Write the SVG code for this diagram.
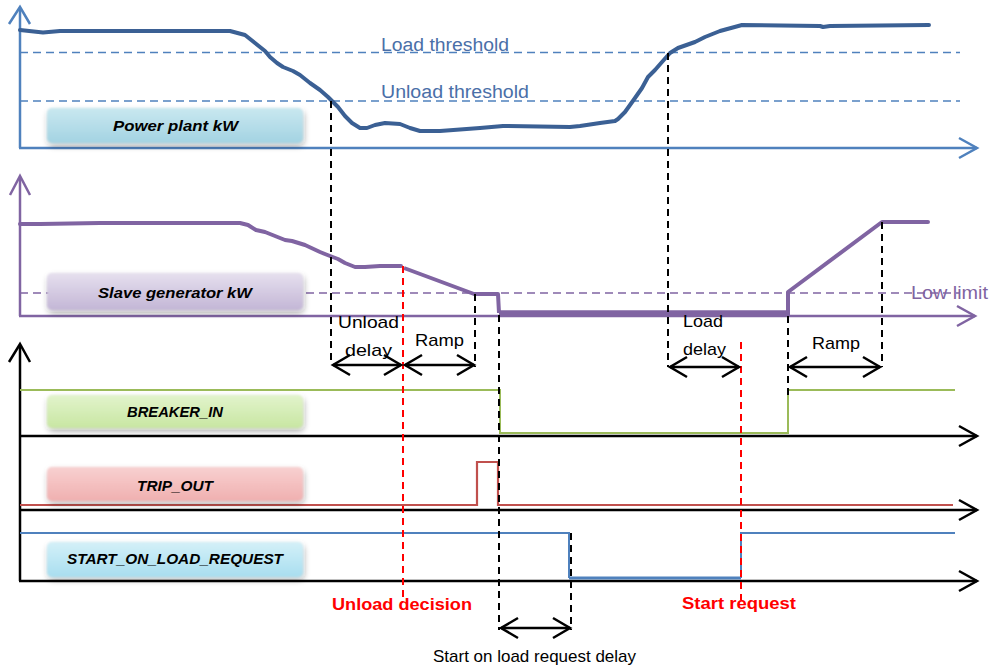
<svg xmlns="http://www.w3.org/2000/svg" width="992" height="669" viewBox="0 0 992 669">
  <defs>
    <style>
      .lbl { font-family: "Liberation Sans", Arial, sans-serif; font-weight: bold; font-style: italic; font-size: 15px; fill: #000; text-anchor: start; }
      .thr { font-family: "Liberation Sans", Arial, sans-serif; font-size: 18px; }
      .note { font-family: "Liberation Sans", Arial, sans-serif; font-size: 17px; fill: #000; }
      .evt { font-family: "Liberation Sans", Arial, sans-serif; font-weight: bold; font-size: 17px; fill: #ff0000; }
      .vdash { fill: none; stroke: #000; stroke-width: 2; stroke-dasharray: 7 5; }
      .rdash { fill: none; stroke: #ff0000; stroke-width: 2; stroke-dasharray: 7 5; }
      .span { fill: none; stroke: #000; stroke-width: 2.5; marker-start: url(#chev); marker-end: url(#chev); }
      .box { filter: url(#soft); }
    </style>
    <marker id="chev" markerUnits="userSpaceOnUse" markerWidth="30" markerHeight="30" refX="0" refY="0" viewBox="-20 -15 30 30" orient="auto-start-reverse" overflow="visible">
      <path d="M -17 -10 L 0 0 L -17 10" fill="none" stroke="#000" stroke-width="2.5"/>
    </marker>
    <marker id="axBlue" markerUnits="userSpaceOnUse" markerWidth="30" markerHeight="30" refX="0" refY="0" viewBox="-20 -15 30 30" orient="auto" overflow="visible">
      <path d="M -18 -10 L 0 0 L -18 10" fill="none" stroke="#4f81bd" stroke-width="2.5"/>
    </marker>
    <marker id="axPurple" markerUnits="userSpaceOnUse" markerWidth="30" markerHeight="30" refX="0" refY="0" viewBox="-20 -15 30 30" orient="auto" overflow="visible">
      <path d="M -18 -10 L 0 0 L -18 10" fill="none" stroke="#8064a2" stroke-width="2.5"/>
    </marker>
    <marker id="axBlack" markerUnits="userSpaceOnUse" markerWidth="30" markerHeight="30" refX="0" refY="0" viewBox="-20 -15 30 30" orient="auto" overflow="visible">
      <path d="M -18 -10 L 0 0 L -18 10" fill="none" stroke="#000" stroke-width="2.5"/>
    </marker>
    <linearGradient id="gBlue" x1="0" y1="0" x2="0" y2="1">
      <stop offset="0" stop-color="#c9e8f0"/>
      <stop offset="1" stop-color="#a3d3e2"/>
    </linearGradient>
    <linearGradient id="gPurple" x1="0" y1="0" x2="0" y2="1">
      <stop offset="0" stop-color="#e6e0ee"/>
      <stop offset="1" stop-color="#c3b6d6"/>
    </linearGradient>
    <linearGradient id="gGreen" x1="0" y1="0" x2="0" y2="1">
      <stop offset="0" stop-color="#e2f4cc"/>
      <stop offset="1" stop-color="#c8e6a2"/>
    </linearGradient>
    <linearGradient id="gRed" x1="0" y1="0" x2="0" y2="1">
      <stop offset="0" stop-color="#f8d0d0"/>
      <stop offset="1" stop-color="#f0b0b0"/>
    </linearGradient>
    <linearGradient id="gCyan" x1="0" y1="0" x2="0" y2="1">
      <stop offset="0" stop-color="#d4f0f8"/>
      <stop offset="1" stop-color="#a8def0"/>
    </linearGradient>
    <filter id="soft" x="-10%" y="-40%" width="120%" height="190%">
      <feGaussianBlur in="SourceAlpha" stdDeviation="3" result="b"/>
      <feOffset dx="1" dy="3" result="o"/>
      <feComponentTransfer in="o" result="sh"><feFuncA type="linear" slope="0.35"/></feComponentTransfer>
      <feGaussianBlur in="SourceGraphic" stdDeviation="1.2" result="s"/>
      <feMerge><feMergeNode in="sh"/><feMergeNode in="s"/></feMerge>
    </filter>
  </defs>

  <rect width="992" height="669" fill="#fff"/>

  <!-- Power plant panel -->
  <g id="power-plant">
    <line x1="20" y1="8" x2="20" y2="148" stroke="#4f81bd" stroke-width="2.5"/>
    <path d="M 9 24 L 20 7 L 30 24" fill="none" stroke="#4f81bd" stroke-width="2.5"/>
    <line x1="19" y1="148" x2="977" y2="148" stroke="#4f81bd" stroke-width="2.5" marker-end="url(#axBlue)"/>
    <line x1="20" y1="52.5" x2="960" y2="52.5" stroke="#4f81bd" stroke-width="1.6" stroke-dasharray="8 5"/>
    <line x1="20" y1="101" x2="960" y2="101" stroke="#4f81bd" stroke-width="1.6" stroke-dasharray="8 5"/>
    <text class="thr" x="381" y="51" fill="#4a6fa8" textLength="128" lengthAdjust="spacingAndGlyphs">Load threshold</text>
    <text class="thr" x="381" y="98" fill="#4a6fa8" textLength="148" lengthAdjust="spacingAndGlyphs">Unload threshold</text>
    <path d="M 20 30 L 43 32.5 L 60 31 L 230 31 L 245 35 L 255 43 L 265 51 L 270 57 L 277 63 L 283 67 L 293 71 L 300 75 L 310 83 L 320 90 L 328 97 L 332 101 L 338 107 L 345 116 L 352 123 L 360 128 L 367 128 L 375 125 L 385 123 L 400 124 L 410 128 L 420 131 L 440 131 L 480 128 L 503 126 L 570 127 L 580 126 L 600 123 L 615 121 L 618 119 L 625 112 L 635 98 L 642 88 L 648 77 L 655 70 L 662 62 L 670 53 L 678 48 L 695 42 L 705 37 L 720 31 L 742 25 L 820 26 L 823 27 L 830 26 L 929 25" fill="none" stroke="#3b6094" stroke-width="4" stroke-linejoin="round" stroke-linecap="round"/>
    <rect class="box" x="47" y="108" width="256" height="35" rx="5" fill="url(#gBlue)"/>
    <text class="lbl" x="113" y="131" textLength="125" lengthAdjust="spacingAndGlyphs">Power plant kW</text>
  </g>

  <!-- Slave generator panel -->
  <g id="slave-generator">
    <line x1="20" y1="177" x2="20" y2="316" stroke="#8064a2" stroke-width="2.5"/>
    <path d="M 10 195 L 20 176 L 30 195" fill="none" stroke="#8064a2" stroke-width="2.5"/>
    <line x1="19" y1="316" x2="975" y2="316" stroke="#8064a2" stroke-width="2.5" marker-end="url(#axPurple)"/>
    <line x1="20" y1="293" x2="960" y2="293" stroke="#8064a2" stroke-width="1.6" stroke-dasharray="8 5"/>
    <text class="thr" x="911" y="299" fill="#8064a2" textLength="77" lengthAdjust="spacingAndGlyphs">Low limit</text>
    <path d="M 20 224 L 40 224 L 100 223 L 240 223 L 248 225 L 256 230 L 265 232 L 275 236 L 285 240 L 292 241 L 305 245 L 320 252 L 330 256 L 338 259 L 345 263 L 355 267 L 365 267 L 380 266 L 401 266" fill="none" stroke="#8064a2" stroke-width="4" stroke-linejoin="round" stroke-linecap="round"/>
    <path d="M 404 268 L 474 294 L 498 294 L 499 313" fill="none" stroke="#8064a2" stroke-width="4" stroke-linejoin="round"/>
    <path d="M 499 313 L 788 313" fill="none" stroke="#8064a2" stroke-width="5.5"/>
    <path d="M 788 315 L 788 292 L 882 222 L 928 222" fill="none" stroke="#8064a2" stroke-width="4" stroke-linejoin="round" stroke-linecap="round"/>
    <rect class="box" x="47" y="273" width="256" height="37" rx="5" fill="url(#gPurple)"/>
    <text class="lbl" x="98" y="298" textLength="154" lengthAdjust="spacingAndGlyphs">Slave generator kW</text>
  </g>

  <!-- Digital signal axes -->
  <g id="signal-axes">
    <line x1="20" y1="345" x2="20" y2="581" stroke="#000" stroke-width="2.5"/>
    <path d="M 9 362 L 20 344 L 30 362" fill="none" stroke="#000" stroke-width="2.5"/>
    <line x1="19" y1="436" x2="977" y2="436" stroke="#000" stroke-width="2.5" marker-end="url(#axBlack)"/>
    <line x1="19" y1="510" x2="977" y2="510" stroke="#000" stroke-width="2.5" marker-end="url(#axBlack)"/>
    <line x1="19" y1="581" x2="977" y2="581" stroke="#000" stroke-width="2.5" marker-end="url(#axBlack)"/>
  </g>

  <g id="breaker-in">
    <path d="M 20 390 L 500 390 L 500 433 L 788 433 L 788 390 L 955 390" fill="none" stroke="#9bbb59" stroke-width="2"/>
    <rect class="box" x="47" y="395" width="256" height="33" rx="5" fill="url(#gGreen)"/>
    <text class="lbl" x="127" y="417" textLength="96" lengthAdjust="spacingAndGlyphs">BREAKER_IN</text>
  </g>

  <g id="trip-out">
    <path d="M 20 505 L 477 505 L 477 462 L 498 462 L 498 505 L 953 505" fill="none" stroke="#c0504d" stroke-width="2.2"/>
    <rect class="box" x="47" y="467" width="256" height="34" rx="5" fill="url(#gRed)"/>
    <text class="lbl" x="137" y="491" textLength="76" lengthAdjust="spacingAndGlyphs">TRIP_OUT</text>
  </g>

  <g id="start-on-load-request">
    <path d="M 20 533 L 569 533 L 569 578" fill="none" stroke="#4f81bd" stroke-width="2"/>
    <path d="M 569 578 L 741 578" fill="none" stroke="#4f81bd" stroke-width="3"/>
    <path d="M 741 578 L 741 533 L 955 533" fill="none" stroke="#4f81bd" stroke-width="2"/>
    <rect class="box" x="47" y="542" width="256" height="35" rx="5" fill="url(#gCyan)"/>
    <text class="lbl" x="67" y="564" textLength="216" lengthAdjust="spacingAndGlyphs">START_ON_LOAD_REQUEST</text>
  </g>

  <!-- Timing guides and intervals -->
  <g id="connectors">
    <line class="vdash" x1="331" y1="101" x2="331" y2="365"/>
    <line class="vdash" x1="668" y1="53" x2="668" y2="367"/>
    <line class="vdash" x1="475" y1="294" x2="475" y2="367"/>
    <line class="vdash" x1="499" y1="315" x2="499" y2="630"/>
    <line class="vdash" x1="571" y1="533" x2="571" y2="630"/>
    <line class="vdash" x1="788" y1="316" x2="788" y2="400"/>
    <line class="vdash" x1="882" y1="222" x2="882" y2="367"/>
    <line class="rdash" x1="403" y1="266" x2="403" y2="600"/>
    <line class="rdash" x1="741" y1="342" x2="741" y2="600"/>

    <line class="span" x1="333" y1="365" x2="401" y2="365"/>
    <line class="span" x1="405" y1="365" x2="474" y2="365"/>
    <line class="span" x1="670" y1="367" x2="739" y2="367"/>
    <line class="span" x1="790" y1="367" x2="880" y2="367"/>
    <line class="span" x1="501" y1="628" x2="570" y2="628"/>
  </g>

  <g id="interval-labels">
    <text class="note" x="338" y="328" textLength="61" lengthAdjust="spacingAndGlyphs">Unload</text>
    <text class="note" x="345" y="356" textLength="47" lengthAdjust="spacingAndGlyphs">delay</text>
    <text class="note" x="415" y="346" textLength="49" lengthAdjust="spacingAndGlyphs">Ramp</text>
    <text class="note" x="683" y="327" textLength="40" lengthAdjust="spacingAndGlyphs">Load</text>
    <text class="note" x="683" y="355" textLength="43" lengthAdjust="spacingAndGlyphs">delay</text>
    <text class="note" x="812" y="349" textLength="48" lengthAdjust="spacingAndGlyphs">Ramp</text>
    <text class="evt" x="332" y="610" textLength="140" lengthAdjust="spacingAndGlyphs">Unload decision</text>
    <text class="evt" x="682" y="609" textLength="114" lengthAdjust="spacingAndGlyphs">Start request</text>
    <text class="note" x="433" y="662" font-size="14" textLength="203" lengthAdjust="spacingAndGlyphs">Start on load request delay</text>
  </g>
</svg>
